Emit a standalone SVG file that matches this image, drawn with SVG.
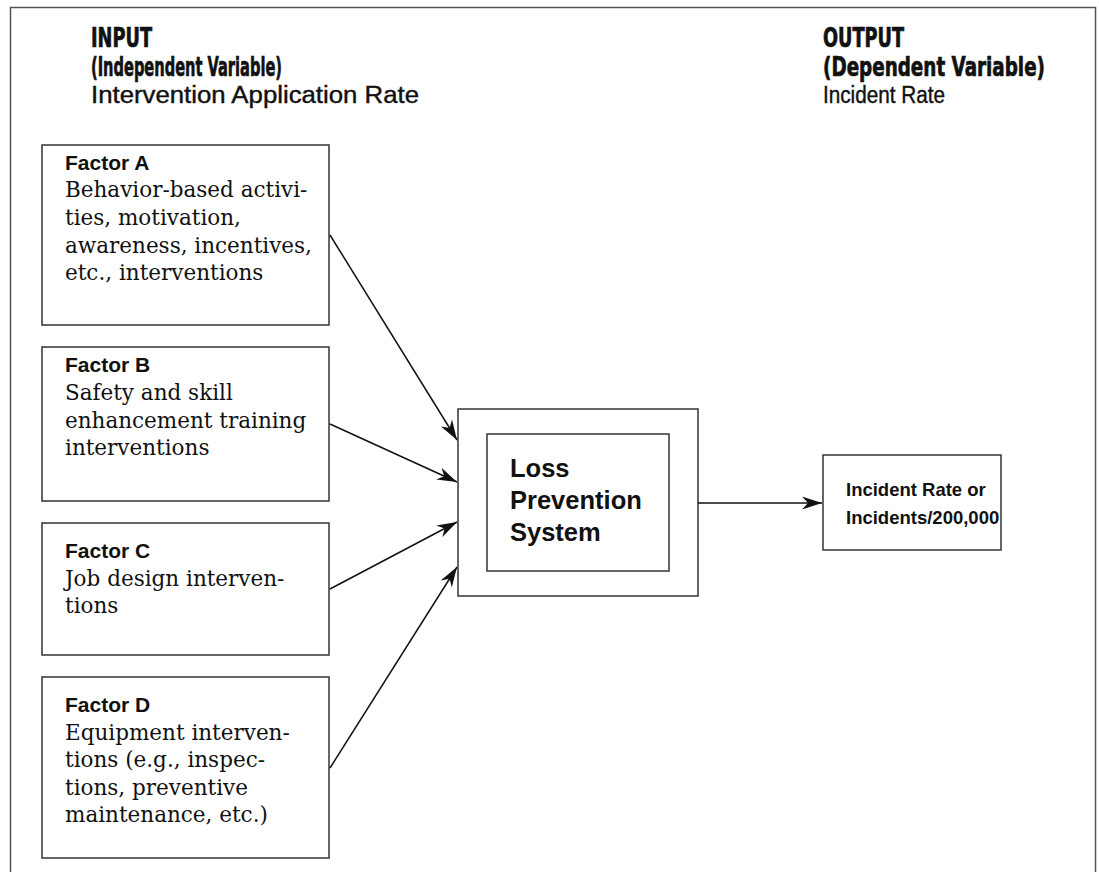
<svg xmlns="http://www.w3.org/2000/svg" width="1099" height="872" viewBox="0 0 1099 872">
<defs>
<style>
.frame{fill:none;stroke:#555;stroke-width:1.5}
.box{fill:#fff;stroke:#333;stroke-width:1.5}
.hdr{font-family:"Liberation Sans Narrow","DejaVu Sans Condensed","Liberation Sans",sans-serif;font-weight:bold;font-size:27px;fill:#111;stroke:#111;stroke-width:0.7}
.sub{font-family:"Liberation Sans",Arial,sans-serif;font-size:23px;fill:#111;stroke:#111;stroke-width:0.4}
.fac{font-family:"Liberation Sans",Arial,sans-serif;font-weight:bold;font-size:21px;fill:#111}
.body{font-family:"DejaVu Serif","Liberation Serif",serif;font-size:21.5px;fill:#111}
.ctr{font-family:"Liberation Sans",Arial,sans-serif;font-weight:bold;font-size:25.5px;fill:#111}
.out{font-family:"Liberation Sans",Arial,sans-serif;font-weight:bold;font-size:18.5px;fill:#111}
.conn{stroke:#111;stroke-width:1.5;fill:none;marker-end:url(#ah)}
</style>
<marker id="ah" markerUnits="userSpaceOnUse" markerWidth="22" markerHeight="14" refX="20" refY="7" orient="auto">
<path d="M0,0.5 L20,7 L0,13.5 L6,7 Z" fill="#111"/>
</marker>
</defs>
<rect class="frame" x="10.5" y="7.5" width="1085" height="900"/>
<g id="header-input">
<text class="hdr" x="91" y="47" textLength="61" lengthAdjust="spacingAndGlyphs">INPUT</text>
<text class="hdr" x="91" y="76" textLength="191" lengthAdjust="spacingAndGlyphs">(Independent Variable)</text>
<text class="sub" x="91" y="103" textLength="328" lengthAdjust="spacingAndGlyphs">Intervention Application Rate</text>
</g>
<g id="header-output">
<text class="hdr" x="823" y="47" textLength="81" lengthAdjust="spacingAndGlyphs">OUTPUT</text>
<text class="hdr" x="823" y="76" textLength="222" lengthAdjust="spacingAndGlyphs">(Dependent Variable)</text>
<text class="sub" x="823" y="103" textLength="122" lengthAdjust="spacingAndGlyphs">Incident Rate</text>
</g>
<g id="factor-a">
<rect class="box" x="42" y="145" width="287" height="180"/>
<text class="fac" x="65" y="170">Factor A</text>
<text class="body" x="65" y="197">Behavior-based activi-</text>
<text class="body" x="65" y="225">ties, motivation,</text>
<text class="body" x="65" y="253">awareness, incentives,</text>
<text class="body" x="65" y="280">etc., interventions</text>
</g>
<g id="factor-b">
<rect class="box" x="42" y="347" width="287" height="154"/>
<text class="fac" x="65" y="372">Factor B</text>
<text class="body" x="65" y="400">Safety and skill</text>
<text class="body" x="65" y="428">enhancement training</text>
<text class="body" x="65" y="455">interventions</text>
</g>
<g id="factor-c">
<rect class="box" x="42" y="523" width="287" height="132"/>
<text class="fac" x="65" y="558">Factor C</text>
<text class="body" x="65" y="586">Job design interven-</text>
<text class="body" x="65" y="613">tions</text>
</g>
<g id="factor-d">
<rect class="box" x="42" y="677" width="287" height="181"/>
<text class="fac" x="65" y="712">Factor D</text>
<text class="body" x="65" y="740">Equipment interven-</text>
<text class="body" x="65" y="767">tions (e.g., inspec-</text>
<text class="body" x="65" y="795">tions, preventive</text>
<text class="body" x="65" y="822">maintenance, etc.)</text>
</g>
<g id="loss-prevention-system">
<rect class="box" x="458" y="409" width="240" height="187"/>
<rect class="box" x="487" y="434" width="182" height="137"/>
<text class="ctr" x="510" y="477">Loss</text>
<text class="ctr" x="510" y="509">Prevention</text>
<text class="ctr" x="510" y="541">System</text>
</g>
<g id="incident-rate">
<rect class="box" x="823" y="455" width="178" height="95"/>
<text class="out" x="846" y="496">Incident Rate or</text>
<text class="out" x="846" y="524">Incidents/200,000</text>
</g>
<g id="connectors">
<line class="conn" x1="330" y1="235" x2="457" y2="440"/>
<line class="conn" x1="330" y1="424" x2="457" y2="482"/>
<line class="conn" x1="330" y1="589" x2="457" y2="522"/>
<line class="conn" x1="330" y1="768" x2="457" y2="567"/>
<line class="conn" x1="698" y1="503" x2="822" y2="503"/>
</g>
</svg>
